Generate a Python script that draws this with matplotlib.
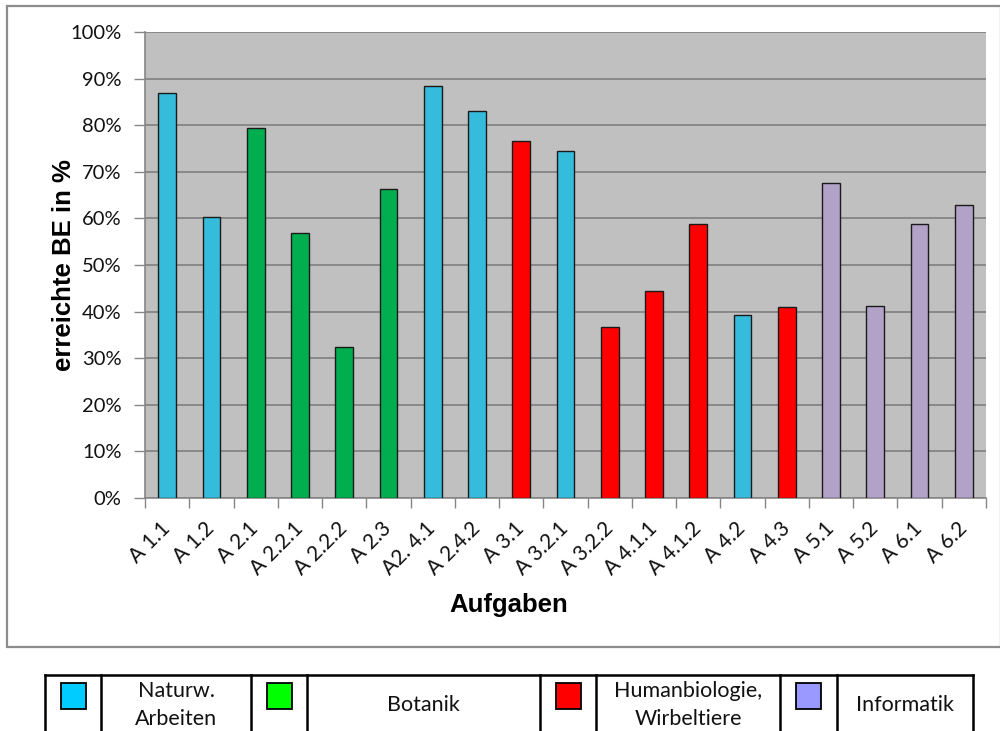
import matplotlib
matplotlib.use("Agg")
import matplotlib.pyplot as plt
from matplotlib.patches import Rectangle
from matplotlib.lines import Line2D
from matplotlib.ticker import PercentFormatter, FixedLocator

# ---- data ----
categories = ["A 1.1", "A 1.2", "A 2.1", "A 2.2.1", "A 2.2.2", "A 2.3", "A2. 4.1",
              "A 2.4.2", "A 3.1", "A 3.2.1", "A 3.2.2", "A 4.1.1", "A 4.1.2",
              "A 4.2", "A 4.3", "A 5.1", "A 5.2", "A 6.1", "A 6.2"]
values = [0.870, 0.604, 0.795, 0.569, 0.323, 0.663, 0.884, 0.831, 0.767, 0.745,
          0.367, 0.445, 0.589, 0.393, 0.409, 0.676, 0.411, 0.587, 0.628]
groups = ["nat", "nat", "bot", "bot", "bot", "bot", "nat", "nat", "hum", "nat",
          "hum", "hum", "hum", "nat", "hum", "inf", "inf", "inf", "inf"]
bar_colors = {"nat": "#35BBDC", "bot": "#00AE4F", "hum": "#FF0000", "inf": "#B2A2C8"}
legend_labels = ["Naturw.\nArbeiten", "Botanik", "Humanbiologie,\nWirbeltiere", "Informatik"]
legend_colors = ["#00CCFF", "#00FF00", "#FF0000", "#9999FF"]
y_ticks = [i / 10 for i in range(11)]

W, H = 1000, 731
def fx(px):
    return px / W
def fy(py):
    return 1 - py / H

tick_font = "Lato"
bold_font = "Liberation Sans"

fig = plt.figure(figsize=(W / 100, H / 100), dpi=100)
fig.patch.set_facecolor("white")

# outer chart frame
fig.add_artist(Rectangle((fx(7), fy(647)), fx(1001) - fx(7), fy(6) - fy(647),
                         transform=fig.transFigure, facecolor="none",
                         edgecolor="#8C8C8C", linewidth=1.6))

ax = fig.add_axes([fx(145), fy(498), fx(986) - fx(145), fy(32) - fy(498)])
ax.set_facecolor("#C0C0C0")
x = list(range(len(categories)))
ax.bar(x, values, width=0.4, color=[bar_colors[g] for g in groups],
       edgecolor="#1a1a1a", linewidth=1.0, zorder=3)
ax.set_xlim(-0.5, len(categories) - 0.5)
ax.set_ylim(0, 1)
ax.set_yticks(y_ticks)
ax.yaxis.set_major_formatter(PercentFormatter(1.0, decimals=0))
ax.grid(axis="y", color="#808080", linewidth=1.2, zorder=1)
ax.set_axisbelow(True)
for s in ["top", "right"]:
    ax.spines[s].set_visible(False)
for s in ["left", "bottom"]:
    ax.spines[s].set_color("#868686")
    ax.spines[s].set_linewidth(1.2)

ax.tick_params(axis="y", direction="out", length=8, width=1.0, color="#868686",
               pad=9, labelsize=14.5, labelcolor="#111111")
for lab in ax.get_yticklabels():
    lab.set_fontfamily(tick_font)

ax.set_xticks(x)
ax.set_xticklabels([])
ax.xaxis.set_minor_locator(FixedLocator([i - 0.5 for i in range(len(categories) + 1)]))
ax.tick_params(axis="x", which="major", length=0)
ax.tick_params(axis="x", which="minor", direction="out", length=7, width=1.0, color="#868686")

# rotated category labels
for i, c in enumerate(categories):
    ax.annotate(c, xy=(i, 0), xycoords="data", xytext=(7, -20), textcoords="offset pixels",
                rotation=45, ha="right", va="top", fontsize=15, fontfamily=tick_font,
                color="#111111", annotation_clip=False)

fig.text(fx(64), fy(265), "erreichte BE in %", rotation=90, ha="center", va="center",
         fontsize=18.5, fontweight="bold", fontfamily=bold_font)
fig.text(fx(509), fy(605), "Aufgaben", ha="center", va="center",
         fontsize=18.5, fontweight="bold", fontfamily=bold_font)

# legend table
cols = [45, 101, 251, 307, 540, 596, 780, 837, 973]
top, bottom = 675, 740
lw = 1.8
fig.add_artist(Line2D([fx(cols[0]), fx(cols[-1])], [fy(top), fy(top)],
                      transform=fig.transFigure, color="black", linewidth=lw))
for c in cols:
    fig.add_artist(Line2D([fx(c), fx(c)], [fy(top), fy(bottom)],
                          transform=fig.transFigure, color="black", linewidth=lw))
for k in range(4):
    l, r = cols[2 * k], cols[2 * k + 1]
    cx = (l + r) / 2
    fig.add_artist(Rectangle((fx(cx - 12.5), fy(709)), fx(25), fy(683) - fy(709),
                             transform=fig.transFigure, facecolor=legend_colors[k],
                             edgecolor="black", linewidth=1.3))
    tl, tr = cols[2 * k + 1], cols[2 * k + 2]
    fig.text(fx((tl + tr) / 2), fy(705), legend_labels[k], ha="center", va="center",
             fontsize=15.5, fontfamily=tick_font, linespacing=1.45, color="#111111")

fig.savefig("out.png", dpi=100)
